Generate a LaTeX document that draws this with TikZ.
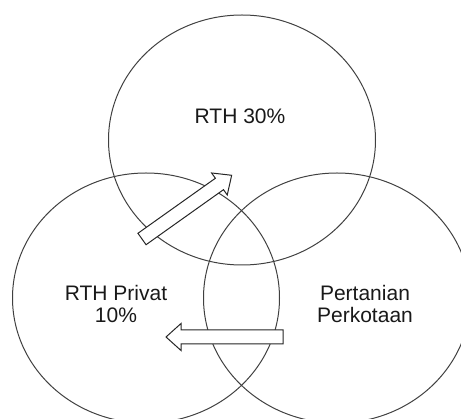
\documentclass[tikz,border=0pt]{standalone}
\usepackage{fontspec}
\setmainfont{Liberation Sans}
\usepackage{tikz}
\usetikzlibrary{arrows.meta,positioning,calc,shapes.geometric}
\tikzset{
  every picture/.append style={line width=1pt},
  every node/.append style={font=\fontsize{21}{22}\selectfont},
}

\begin{document}
\begin{tikzpicture}[
  x=1pt, y=-1pt,
  venn/.style  ={ellipse, draw=black!75, minimum width=267pt, minimum height=250pt,
                 inner sep=0pt, outer sep=0pt},
  vlabel/.style={align=center, inner sep=0pt, text=black!90},
  arrowbox/.style={draw=black!85, fill=white, line join=miter},
  pics/blockarr/.style={code={
    \draw[arrowbox] (0,-7) -- (#1-15,-7) -- (#1-15,-13.5) -- (#1,0)
      -- (#1-15,13.5) -- (#1-15,7) -- (0,7) -- cycle;
  }}
]

% canvas fixed to the reference size
\useasboundingbox (0,0) rectangle (461,419);
\clip (0,0) rectangle (461,419);

% the three circles
\node[venn] (rth)   at (242,140) {};
\node[venn] (privat) at (146,298) {};
\node[venn] (tani)  at (337,298) {};

% labels inside the circles
\node[vlabel] (rthtxt)    at ([xshift=-2pt,yshift=24pt]rth.center) {RTH 30\%};
\node[vlabel] (privattxt) at ([xshift=-30pt,yshift=-6pt]privat.center) {RTH Privat\\10\%};
\node[vlabel] (tanitxt)   at ([xshift=28pt,yshift=-6pt]tani.center) {Pertanian\\Perkotaan};

% block arrows
\pic[shift={(142,239)}, rotate=35.4] (uparr) {blockarr=110};
\pic[shift={(283,337)}, rotate=180] (leftarr) {blockarr=117};

\end{tikzpicture}
\end{document}
